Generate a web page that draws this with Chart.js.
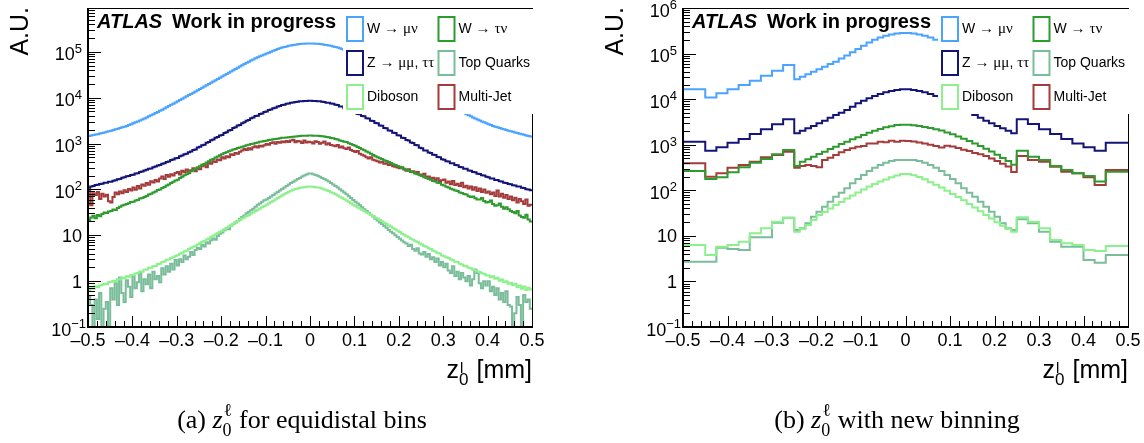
<!DOCTYPE html>
<html><head><meta charset="utf-8">
<script src="https://cdn.jsdelivr.net/npm/chart.js@4.4.0/dist/chart.umd.min.js"></script>
<style>
html,body{margin:0;padding:0;background:#fff;}
#wrap{position:relative;width:1144px;height:443px;overflow:hidden;background:#fff;}
canvas{position:absolute;top:0;}
</style></head><body>
<div id="wrap">
<canvas id="c1" width="572" height="443" style="left:0px"></canvas>
<canvas id="c2" width="572" height="443" style="left:572px"></canvas>
</div>
<script>
// ---------------- DATA ----------------
const seriesNames = ['W → μν', 'Z → μμ, ττ', 'Diboson', 'W → τν', 'Top Quarks', 'Multi-Jet'];

const xTickValues = [-0.5, -0.4, -0.3, -0.2, -0.1, 0, 0.1, 0.2, 0.3, 0.4, 0.5];
const xTickLabels = ['–0.5', '–0.4', '–0.3', '–0.2', '–0.1', '0', '0.1', '0.2', '0.3', '0.4', '0.5'];
const yTickValues = [0.1, 1, 10, 100, 1000, 10000, 100000, 1000000];
const yTickBase = ['10', '1', '10', '10', '10', '10', '10', '10'];
const yTickExp = ['−1', '', '', '2', '3', '4', '5', '6'];

// (a) equidistant bins: 200 bins of 0.005 from -0.5 to 0.5
const nBinsA = 200;
const a_Wmunu = [1465,1500,1530,1570,1600,1645,1695,1745,1795,1850,1900,1965,2040,2110,2180,2250,2330,2420,2520,2630,2760,2890,3020,3180,3350,3520,3710,3910,4120,4350,4600,4880,5170,5470,5800,6160,6560,6970,7380,7850,8360,8900,9480,10080,10690,11350,12050,12830,13680,14530,15380,16350,17450,18600,19800,21100,22500,23980,25530,27200,29000,30900,32900,35050,37350,39780,42330,44950,47650,50650,53950,57300,60700,64300,68100,71900,75700,79480,83230,87150,91250,95550,100050,104780,109730,114550,119250,123400,127000,130730,134580,137700,140100,142530,144980,147050,148750,149950,150650,151000,
 151000,150650,149950,148750,147050,144980,142530,140100,137700,134580,130730,127000,123400,119250,114550,109730,104780,100050,95550,91250,87150,83230,79480,75700,71900,68100,64300,60700,57300,53950,50650,47650,44950,42330,39780,37350,35050,32900,30900,29000,27200,25530,23980,22500,21100,19800,18600,17450,16350,15380,14530,13680,12830,12050,11350,10690,10080,9480,8900,8360,7850,7380,6970,6560,6160,5800,5470,5170,4880,4600,4350,4120,3910,3710,3520,3350,3180,3020,2890,2760,2630,2520,2420,2330,2250,2180,2110,2040,1965,1900,1850,1795,1745,1695,1640,1590,1550,1500,1460,1420];
const a_Zll = [108,115,118,124,126,131,133,139,140,146,147,155,158,167,168,179,184,194,196,205,208,222,226,240,244,259,268,282,287,305,314,331,338,360,372,396,405,436,450,478,485,525,545,583,600,648,670,722,740,815,850,918,945,1040,1080,1180,1220,1330,1380,1500,1540,1700,1770,1920,1980,2170,2260,2460,2540,2780,2890,3150,3240,3550,3680,3960,4050,4380,4520,4860,4980,5370,5510,5900,6020,6420,6560,6900,7040,7370,7490,7770,7870,8080,8160,8320,8380,8470,8500,8530,
 8520,8460,8430,8340,8300,8140,8060,7780,7740,7440,7350,6960,6900,6450,6400,5900,5890,5400,5350,4880,4850,4400,4350,3960,3950,3560,3520,3140,3110,2800,2770,2470,2450,2190,2160,1920,1900,1720,1690,1510,1490,1340,1320,1190,1170,1050,1030,925,915,810,790,705,700,635,625,570,560,510,500,455,445,410,405,372,370,340,335,308,305,283,280,258,256,238,236,220,217,203,200,188,185,173,172,161,160,150,149,140,138,131,130,123,122,115,115,108,107,101,100,96];
const a_Diboson = [0.62,0.70,0.68,0.77,0.74,0.80,0.83,0.88,0.85,0.95,0.97,1.02,0.98,1.10,1.08,1.18,1.15,1.28,1.25,1.36,1.34,1.46,1.50,1.62,1.60,1.76,1.80,1.95,1.96,2.10,2.15,2.35,2.38,2.60,2.68,2.92,2.98,3.20,3.30,3.55,3.65,3.95,4.15,4.45,4.62,5.00,5.25,5.60,5.85,6.25,6.70,7.20,7.45,8.05,8.55,9.20,9.70,10.4,11.0,11.9,12.6,13.6,14.4,15.6,16.5,17.8,18.9,20.3,21.6,23.2,24.4,26.2,27.8,29.8,31.5,33.8,35.8,38.5,40.8,43.5,46.5,49.5,53.0,56.5,60.5,64.5,69.0,74.0,78.5,83.5,88.5,93.5,98,102,105,108,110,112,114,115,
 115,114,112,110,108,104,100,96,92,87,83,78,74,69.5,65.5,61,57.5,53.5,50,46.5,43.5,40.5,38.5,36,34,31.5,29.8,27.8,26.2,24.2,23.2,21.5,20.3,18.8,17.6,16.4,15.5,14.2,13.6,12.5,11.8,10.8,10.3,9.5,9.1,8.4,8.0,7.4,7.1,6.6,6.3,5.8,5.6,5.2,5.0,4.6,4.4,4.1,4.0,3.6,3.5,3.3,3.2,2.95,2.85,2.65,2.6,2.4,2.3,2.15,2.1,1.95,1.9,1.78,1.72,1.62,1.58,1.48,1.45,1.35,1.32,1.22,1.28,1.12,1.18,1.02,1.08,0.95,1.00,0.88,0.92,0.82,0.88,0.74,0.80,0.68,0.76,0.64,0.72,0.66];
const a_Wtaunu = [21.5,24.5,26.5,23.5,27.5,26.0,29.0,31.5,30.5,33.0,34.0,36.5,35.5,39.5,42.0,44.5,46.5,48.0,50,53,53.5,57,59,63,65,68,72,77,80,85,90,97,100,107,113,122,128,138,146,157,163,176,188,203,214,230,247,266,277,298,318,344,358,384,410,444,462,495,520,558,582,620,645,680,705,742,762,795,815,850,875,912,935,970,988,1025,1050,1090,1105,1140,1155,1190,1215,1245,1255,1275,1300,1330,1340,1360,1370,1395,1400,1420,1440,1460,1475,1480,1485,1490,
 1490,1485,1480,1470,1460,1440,1425,1390,1370,1320,1310,1260,1230,1170,1140,1090,1075,1010,980,925,895,840,800,750,715,670,635,595,565,530,505,478,458,432,418,395,375,352,340,322,310,294,282,266,258,244,235,222,214,203,196,184,178,168,162,152,149,140,137,126,122,114,110,103,100,95,92,86,83,79,77,71,68,70,64,60,60,65,56,52,53,57,48,44,45,49,42,38,41,37,34,32,30,34,27,25,24,28,22,20];
const a_Top = [0.45,0.30,0.06,0.40,0.15,0.55,0.05,0.25,0.35,0.06,0.70,0.40,0.90,0.30,1.20,0.55,0.35,1.05,0.75,0.45,1.30,0.70,0.95,1.50,0.60,1.10,0.85,1.40,0.70,1.60,1.10,1.30,0.95,1.90,1.40,2.10,1.60,2.40,1.80,2.90,2.20,3.00,2.60,3.60,3.00,3.40,4.30,3.70,4.80,5.30,5.00,6.20,5.70,7.00,6.60,7.80,8.50,8.00,9.60,10.8,11.5,12.8,14.0,13.5,16.2,17.5,19.0,20.5,23.0,25.0,27.0,30.0,32.5,35.0,38.0,42.0,46.0,49.0,54.0,58.0,60,65,70,75,81,88,95,102,110,118,127,137,147,157,168,178,190,202,212,222,
 222,215,207,198,188,178,168,158,148,138,128,119,110,101,93,85,78,71,65,59,54,49,45,41,37,34,31,28,25.5,23,21,19,17.5,16,14.5,13,12,11,10,9.2,8.4,7.7,7.0,6.6,5.8,6.2,5.0,4.6,5.2,4.0,3.8,4.3,3.4,3.9,3.0,3.3,2.6,3.1,2.2,2.6,2.0,2.4,1.7,1.5,2.1,1.3,1.6,1.1,1.5,1.2,1.0,1.3,0.8,1.1,1.8,1.5,0.9,0.7,1.0,0.8,1.0,0.6,0.75,0.5,0.7,0.4,0.55,0.35,0.6,0.3,0.28,0.05,0.2,0.45,0.3,0.06,0.5,0.35,0.4,0.25];
const a_MJ = [95,45,82,75,88,62,80,70,76,55,52,68,85,78,90,82,96,88,102,95,110,98,118,105,128,120,138,126,150,142,160,148,172,190,168,205,188,215,200,228,240,212,255,236,270,225,262,290,250,300,275,320,355,305,385,360,410,395,450,430,500,470,530,505,580,560,620,600,660,700,760,720,790,740,830,870,820,890,860,920,980,940,1020,1060,990,1080,1040,1110,1060,1130,1080,1170,1210,1060,1140,1100,1020,1160,1050,1090,
 1060,1000,1120,1080,990,1040,1100,950,1010,930,900,870,930,820,860,790,760,820,720,690,650,690,600,570,540,500,470,500,440,425,410,385,400,360,370,340,352,320,310,300,290,305,270,255,275,240,250,225,238,210,200,218,185,192,170,180,160,175,150,158,165,140,148,130,152,125,132,118,140,112,120,105,115,98,112,92,104,88,100,84,90,78,86,72,95,70,80,66,75,62,70,58,66,52,62,55,48,60,44,46];

// (b) new binning: bin edges
const edgesB = [-0.5,-0.45,-0.425,-0.4,-0.375,-0.35,-0.325,-0.3,-0.275,-0.25,
 -0.2375,-0.225,-0.2125,-0.2,-0.1875,-0.175,-0.1625,-0.15,-0.1375,-0.125,-0.1125,-0.1,-0.0875,-0.075,-0.0625,-0.05,-0.0375,-0.025,-0.0125,0,
 0.0125,0.025,0.0375,0.05,0.0625,0.075,0.0875,0.1,0.1125,0.125,0.1375,0.15,0.1625,0.175,0.1875,0.2,0.2125,0.225,0.2375,0.25,
 0.275,0.3,0.325,0.35,0.375,0.4,0.425,0.45,0.5];
const b_Wmunu = [16400,10800,13400,16400,20400,25400,32700,42100,56100,
 27300,31100,35200,40100,45200,51500,59000,66400,77600,91200,107000,126000,148000,174000,200000,224000,245000,263000,275000,282000,
 282000,275000,263000,245000,224000,200000,174000,148000,126000,107000,91200,77600,66400,59000,51500,45200,40100,35200,31100,27300,
 56100,42100,32700,25400,20400,16400,13400,10800,16400];
const b_Zll = [1160,740,877,1110,1340,1720,2180,2810,3610,
 1780,2030,2290,2580,2950,3370,3920,4490,5050,5780,6820,8110,9250,10400,11700,13000,14100,15100,15900,16400,
 16400,15900,15100,14100,13000,11700,10400,9250,8110,6820,5780,5050,4490,3920,3370,2950,2580,2290,2030,1780,
 3610,2850,2180,1720,1340,1070,877,740,1110];
const b_Diboson = [6.30,3.80,5.78,6.30,7.45,11.4,14.7,20.5,25.1,
 12.3,14.1,17.3,22.3,28.7,33.4,39.8,47.5,55.3,66.1,76.9,89.3,104,121,137,155,173,193,211,228,
 228,214,195,174,151,132,115,97.7,83.2,70.8,60.3,50.1,41.7,34.7,28.8,24.0,20.0,16.6,14.1,12.3,
 25.5,20.5,14.7,8.11,6.87,6.30,4.90,4.66,6.0];
const b_Wtaunu = [265,177,193,248,320,403,486,617,766,
 341,424,479,546,625,703,805,906,1040,1160,1320,1460,1630,1840,2030,2210,2410,2540,2710,2750,
 2750,2690,2570,2450,2340,2190,2040,1860,1700,1510,1350,1200,1070,933,813,708,603,513,437,363,
 740,546,462,341,279,236,206,155,256];
const b_Top = [2.71,2.71,5.50,5.15,4.90,9.29,9.29,19.5,25.1,
 13.5,14.7,18.9,26.3,33.9,43.7,56.2,72.3,88.5,111,142,177,217,265,313,359,403,440,462,462,
 462,462,440,403,359,313,265,217,177,142,111,88.5,72.3,56.2,43.7,33.9,26.3,18.9,14.7,13.5,
 23.1,18.9,12.3,7.45,5.78,5.78,2.95,2.58,3.80];
const b_MJ = [391,199,236,313,359,424,530,594,703,
 313,341,359,341,320,462,519,594,682,766,834,906,938,1070,1070,1160,1130,1220,1160,1220,
 1200,1170,1120,1070,1000,933,871,955,912,851,776,724,661,617,562,501,437,380,331,251,
 566,462,424,330,256,236,193,131,279];

// ---------------- STYLE ----------------
const seriesColors = ['#4aa3ff', '#141478', '#8cf08c', '#2e9b2e', '#79bd9a', '#a53b3b'];
const SANS = '"Liberation Sans", Arial, Helvetica, sans-serif';
const SERIF = '"Liberation Serif", "Times New Roman", serif';

function stepPoints(edges, vals) {
  const pts = vals.map((v, i) => ({x: edges[i], y: v}));
  pts.push({x: edges[vals.length], y: vals[vals.length - 1]});
  return pts;
}

function drawMixed(ctx, text, x, y) {
  const re = /[\u0370-\u03FF\u2190-\u21FF]/;
  const runs = text.match(/[\u0370-\u03FF\u2190-\u21FF]+|[^\u0370-\u03FF\u2190-\u21FF]+/g);
  ctx.textBaseline = 'middle'; ctx.textAlign = 'left'; ctx.fillStyle = '#000';
  for (const r of runs) {
    const g = re.test(r);
    ctx.font = g ? '15px ' + SERIF : '14px ' + SANS;
    ctx.fillText(r, x, y + (g ? 0.5 : 0));
    x += ctx.measureText(r).width;
  }
}

function makePlugin(cfg) {
  return {
    id: 'rootFrame',
    afterDatasetsDraw(chart) {
      const ctx = chart.ctx, a = chart.chartArea, xs = chart.scales.x, ys = chart.scales.y;
      ctx.save();
      // ticks
      ctx.strokeStyle = '#000'; ctx.lineWidth = 1;
      ctx.beginPath();
      yTickValues.forEach(d => {
        if (d <= ys.max * 1.0001) {
          const py = Math.round(ys.getPixelForValue(d)) + 0.5;
          ctx.moveTo(a.left, py); ctx.lineTo(a.left + 13, py);
        }
        for (let k = 2; k <= 9; k++) {
          const v = d * k;
          if (v <= ys.max * 1.0001 && v >= ys.min) {
            const py = Math.round(ys.getPixelForValue(v)) + 0.5;
            ctx.moveTo(a.left, py); ctx.lineTo(a.left + 7, py);
          }
        }
      });
      for (let i = 0; i <= 50; i++) {
        const v = -0.5 + i * 0.02;
        const px = Math.round(xs.getPixelForValue(v)) + 0.5;
        ctx.moveTo(px, a.bottom); ctx.lineTo(px, a.bottom - (i % 5 === 0 ? 11 : 6));
      }
      ctx.stroke();
      // legend
      const lx = a.left + 255, ly = a.top + 1, lw = a.right + 4 - lx, lh = 105;
      ctx.fillStyle = '#fff'; ctx.fillRect(lx, ly, lw, lh);
      chart.data.datasets.forEach((ds, i) => {
        const col = Math.floor(i / 3), row = i % 3;
        const bx = a.left + 259 + col * 91.5, cy = a.top + 21 + row * 34;
        ctx.strokeStyle = ds.borderColor; ctx.lineWidth = 2;
        ctx.strokeRect(bx, cy - 12, 16, 24);
        drawMixed(ctx, ds.label, bx + 20, cy);
      });
      // frame
      ctx.strokeStyle = '#000'; ctx.lineWidth = 1;
      ctx.beginPath(); ctx.moveTo(a.left, a.top + 0.5); ctx.lineTo(a.right + 1, a.top + 0.5); ctx.stroke();
      ctx.beginPath(); ctx.moveTo(a.right + 0.5, ly + lh); ctx.lineTo(a.right + 0.5, a.bottom); ctx.stroke();
      ctx.lineWidth = 2;
      ctx.beginPath(); ctx.moveTo(a.left, a.top); ctx.lineTo(a.left, a.bottom); ctx.lineTo(a.right + 1, a.bottom); ctx.stroke();
      ctx.restore();
    },
    afterDraw(chart) {
      const ctx = chart.ctx, a = chart.chartArea, ys = chart.scales.y;
      ctx.save();
      ctx.fillStyle = '#000';
      // y tick labels (base with raised exponent), placed by the log scale
      ctx.textBaseline = 'alphabetic'; ctx.textAlign = 'left';
      yTickValues.forEach((v, i) => {
        if (v > ys.max * 1.0001) return;
        const py = ys.getPixelForValue(v);
        const base = yTickBase[i], ex = yTickExp[i];
        ctx.font = '18px ' + SANS; const wb = ctx.measureText(base).width;
        ctx.font = '13px ' + SANS; const we = ex ? ctx.measureText(ex).width : 0;
        const right = a.left - 6 + (ex.startsWith('−') ? 4 : 0);
        const bl = py + (ex ? 8.5 : 6.5);
        ctx.font = '18px ' + SANS; ctx.fillText(base, right - we - wb, bl);
        if (ex) { ctx.font = '13px ' + SANS; ctx.fillText(ex, right - we, bl - 7.5); }
      });
      // ATLAS label
      ctx.font = 'italic bold 20px ' + SANS;
      ctx.fillText('ATLAS', a.left + 9, a.top + 20);
      ctx.font = 'bold 20px ' + SANS;
      ctx.fillText('Work in progress', a.left + 84, a.top + 20);
      // y title
      ctx.save();
      ctx.translate(a.left - 60, a.top - 1); ctx.rotate(-Math.PI / 2);
      ctx.textAlign = 'right'; ctx.font = '25px ' + SANS;
      ctx.fillText('A.U.', 0, 0);
      ctx.restore();
      // x title
      const base = a.bottom + 51;
      ctx.textAlign = 'left';
      ctx.font = '25px ' + SANS;
      const wUnit = ctx.measureText('[mm]').width, wSp = ctx.measureText(' ').width, wz = ctx.measureText('z').width;
      ctx.font = '17px ' + SANS;
      const w0 = ctx.measureText('0').width;
      let x = a.right - wUnit;
      ctx.font = '25px ' + SANS; ctx.fillText('[mm]', x, base);
      x -= wSp + w0 + 1;
      ctx.font = '17px ' + SANS; ctx.fillText('0', x, base + 7);
      ctx.font = '15px ' + SANS; ctx.fillText('l', x + 1, base - 5);
      x -= wz;
      ctx.font = '25px ' + SANS; ctx.fillText('z', x, base);
      // caption
      const cb = 428;
      ctx.font = '26px ' + SERIF; const w1 = ctx.measureText(cfg.capPre).width, w3 = ctx.measureText(cfg.capPost).width;
      ctx.font = 'italic 26px ' + SERIF; const wZ = ctx.measureText('z').width;
      ctx.font = '18px ' + SERIF; const wb = Math.max(ctx.measureText('0').width, ctx.measureText('ℓ').width) + 1;
      let cx = a.left + 214 - (w1 + wZ + wb + w3) / 2;
      ctx.font = '26px ' + SERIF; ctx.fillText(cfg.capPre, cx, cb); cx += w1;
      ctx.font = 'italic 26px ' + SERIF; ctx.fillText('z', cx, cb); cx += wZ;
      ctx.font = '18px ' + SERIF; ctx.fillText('0', cx, cb + 8); ctx.fillText('ℓ', cx + 1, cb - 12); cx += wb;
      ctx.font = '26px ' + SERIF; ctx.fillText(cfg.capPost, cx, cb);
      ctx.restore();
    }
  };
}

function makeChart(id, edges, series, cfg) {
  const datasets = series.map((vals, i) => ({
    label: seriesNames[i],
    data: stepPoints(edges, vals),
    borderColor: seriesColors[i],
    backgroundColor: seriesColors[i],
    borderWidth: 2,
    pointRadius: 0,
    stepped: 'before',
    fill: false,
    tension: 0,
    clip: 0
  }));
  return new Chart(document.getElementById(id), {
    type: 'line',
    data: {datasets},
    options: {
      responsive: false, animation: false, devicePixelRatio: 1,
      events: [],
      layout: {padding: {left: 0, right: cfg.padRight, top: 8, bottom: 0}},
      plugins: {legend: {display: false}, tooltip: {enabled: false}},
      scales: {
        x: {
          type: 'linear', min: -0.5, max: 0.5,
          afterBuildTicks: s => { s.ticks = xTickValues.map(v => ({value: v})); },
          ticks: {autoSkip: false, maxRotation: 0, minRotation: 0, padding: 3, color: '#000',
            font: {family: SANS, size: 18},
            callback: (v) => { const k = xTickValues.findIndex(t => Math.abs(t - v) < 1e-9); return k < 0 ? '' : xTickLabels[k]; }},
          grid: {display: false, drawTicks: false},
          border: {display: false},
          afterFit: s => { s.height = 116; s.paddingLeft = 0; s.paddingRight = 0; }
        },
        y: {
          type: 'logarithmic', min: 0.1, max: cfg.ymax,
          afterBuildTicks: s => { s.ticks = yTickValues.filter(v => v <= cfg.ymax * 1.0001).map(v => ({value: v})); },
          ticks: {display: false, autoSkip: false},
          grid: {display: false, drawTicks: false},
          border: {display: false},
          afterFit: s => { s.width = cfg.left; s.paddingTop = 0; s.paddingBottom = 0; }
        }
      }
    },
    plugins: [makePlugin(cfg)]
  });
}

const edgesA = [];
for (let i = 0; i <= nBinsA; i++) edgesA.push(Math.round((-0.5 + i / nBinsA) * 1e6) / 1e6);

makeChart('c1', edgesA, [a_Wmunu, a_Zll, a_Diboson, a_Wtaunu, a_Top, a_MJ],
  {padRight: 40, left: 88, ymax: 9e5, capPre: '(a) ', capPost: ' for equidistal bins'});
makeChart('c2', edgesB, [b_Wmunu, b_Zll, b_Diboson, b_Wtaunu, b_Top, b_MJ],
  {padRight: 16, left: 111, ymax: 1e6, capPre: '(b) ', capPost: ' with new binning'});
</script>
</body></html>
